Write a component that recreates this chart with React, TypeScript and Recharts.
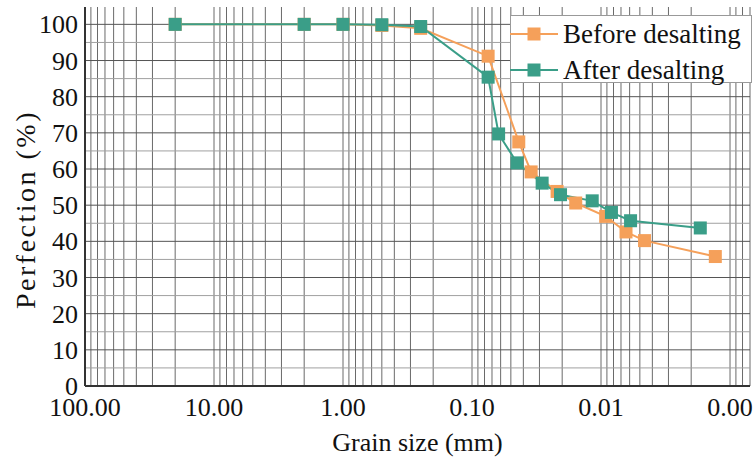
import React from 'react';
import { LineChart, Line, XAxis, YAxis, ReferenceLine, Legend } from 'recharts';

// Grain size (mm) and passing percentage
const beforeSizes = [20, 2, 1, 0.5, 0.25, 0.075, 0.0434, 0.0348, 0.0219, 0.0157, 0.0092, 0.0064, 0.0046, 0.0013];
const beforeValues = [100, 100, 100, 99.7, 98.9, 91.2, 67.5, 59.2, 53.8, 50.6, 46.9, 42.6, 40.2, 35.8];
const afterSizes = [20, 2, 1, 0.5, 0.25, 0.075, 0.0622, 0.0448, 0.0286, 0.0206, 0.0117, 0.0083, 0.0059, 0.0017];
const afterValues = [100, 100, 100, 99.9, 99.4, 85.4, 69.7, 61.7, 56.1, 52.9, 51.2, 48.0, 45.7, 43.7];

const seriesNames = ['Before desalting', 'After desalting'];
const seriesColors = ['#F5A05A', '#3A9E88'];

const xTicks = [100, 10, 1, 0.1, 0.01, 0.001];
const yTicks = [0, 10, 20, 30, 40, 50, 60, 70, 80, 90, 100];
const yGridMinor = [5, 15, 25, 35, 45, 55, 65, 75, 85, 95];
const decadeBases = [0.0001, 0.001, 0.01, 0.1, 1, 10];
const multipliers = [1, 2, 3, 4, 5, 6, 7, 8, 9];
const xTitle = 'Grain size (mm)';
const yTitle = 'Perfection (%)';

const xDomain = [0.0007, 100];
const yDomain = [0, 104.8];

const beforeData = beforeSizes.map((d, i) => ({ d, p: beforeValues[i] }));
const afterData = afterSizes.map((d, i) => ({ d, p: afterValues[i] }));
const xGrid: number[] = [];
decadeBases.forEach((b) => multipliers.forEach((m) => xGrid.push(+(b * m).toPrecision(6))));

const FONT = "'Liberation Serif', 'Times New Roman', serif";
const TXT = { fontFamily: FONT, fill: '#111' };

const SquareDot = (color: string) => (props: any) => {
  const { cx, cy, index } = props;
  if (cx == null || cy == null) return <g key={index} />;
  return <rect key={index} x={cx - 6.5} y={cy - 6.5} width={13} height={13} fill={color} />;
};

const XTick = (props: any) => {
  const { x, y, payload } = props;
  return (
    <text x={x} y={y} dy={18} textAnchor="middle" fontSize={26} style={TXT}>
      {Number(payload.value).toFixed(2)}
    </text>
  );
};

const YTick = (props: any) => {
  const { x, y, payload } = props;
  return (
    <text x={x} y={y} dy={9} textAnchor="end" fontSize={26} style={TXT}>
      {payload.value}
    </text>
  );
};

const XTitle = (props: any) => {
  const { viewBox } = props;
  const cx = viewBox.x + viewBox.width / 2;
  const by = viewBox.y + viewBox.height;
  return (
    <text x={cx} y={by - 6} textAnchor="middle" fontSize={26} style={TXT}>
      {xTitle}
    </text>
  );
};

const YTitle = (props: any) => {
  const { viewBox } = props;
  const cx = viewBox.x + 35;
  const cy = viewBox.y + viewBox.height / 2 + 13;
  return (
    <text x={cx} y={cy} transform={`rotate(-90, ${cx}, ${cy})`} textAnchor="middle" fontSize={28} style={{ ...TXT, letterSpacing: 2.5 }}>
      {yTitle}
    </text>
  );
};

const renderLegend = () => (
  <div
    style={{
      width: 242,
      height: 68,
      border: '1px solid #999',
      background: '#fff',
      boxSizing: 'border-box',
      fontFamily: FONT,
      fontSize: 27,
      color: '#111',
      lineHeight: '36px',
    }}
  >
    {seriesNames.map((name, i) => (
      <div key={name} style={{ display: 'flex', alignItems: 'center', height: 36 }}>
        <svg width={48} height={20} style={{ marginLeft: -1, flex: 'none' }}>
          <line x1={0} y1={10} x2={48} y2={10} stroke={seriesColors[i]} strokeWidth={2} />
          <rect x={17.5} y={3.5} width={13} height={13} fill={seriesColors[i]} />
        </svg>
        <span style={{ marginLeft: 5, whiteSpace: 'nowrap' }}>{name}</span>
      </div>
    ))}
  </div>
);

export default function App() {
  return (
    <div style={{ position: 'absolute', left: 0, top: 0, background: '#fff', fontFamily: FONT }}>
      <LineChart width={755} height={457} margin={{ top: 7, right: 5, bottom: 0, left: 0 }}>
        <XAxis
          dataKey="d"
          type="number"
          scale="log"
          domain={xDomain}
          allowDataOverflow
          reversed
          ticks={xTicks}
          tickLine={false}
          tickSize={0}
          tickMargin={12}
          height={71}
          axisLine={{ stroke: '#333', strokeWidth: 2 }}
          tick={<XTick />}
          label={<XTitle />}
          interval={0}
        />
        <YAxis
          type="number"
          domain={yDomain}
          allowDataOverflow
          ticks={yTicks}
          tickLine={false}
          tickSize={0}
          tickMargin={7}
          width={85}
          axisLine={{ stroke: '#333', strokeWidth: 2 }}
          tick={<YTick />}
          interval={0}
          label={<YTitle />}
        />
        {xGrid.map((v) => (
          <ReferenceLine key={'x' + v} x={v} stroke="#6a6a6a" strokeWidth={1} ifOverflow="discard" />
        ))}
        {yGridMinor.map((v) => (
          <ReferenceLine key={'ym' + v} y={v} stroke="#a0a0a0" strokeWidth={1} />
        ))}
        {yTicks.filter((v) => v > 0).map((v) => (
          <ReferenceLine key={'y' + v} y={v} stroke="#555" strokeWidth={1} />
        ))}
        <Legend layout="vertical" align="center" verticalAlign="middle" content={renderLegend} wrapperStyle={{ left: 510, top: 15, width: 242 }} />
        <Line
          data={beforeData}
          dataKey="p"
          name={seriesNames[0]}
          stroke={seriesColors[0]}
          strokeWidth={2}
          dot={SquareDot(seriesColors[0])}
          activeDot={false}
          isAnimationActive={false}
        />
        <Line
          data={afterData}
          dataKey="p"
          name={seriesNames[1]}
          stroke={seriesColors[1]}
          strokeWidth={2}
          dot={SquareDot(seriesColors[1])}
          activeDot={false}
          isAnimationActive={false}
        />
      </LineChart>
    </div>
  );
}
